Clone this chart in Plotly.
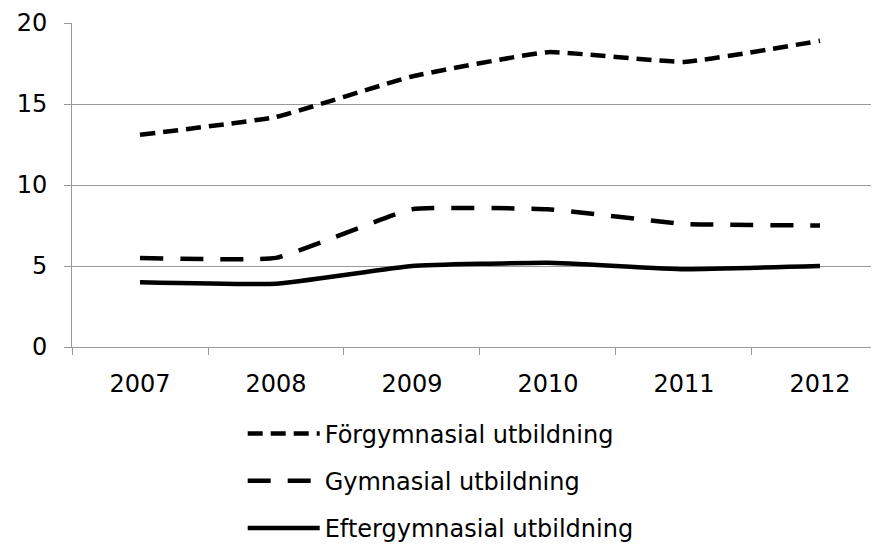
import plotly.graph_objects as go

years = ['2007', '2008', '2009', '2010', '2011', '2012']
forgymnasial = [13.1, 14.2, 16.7, 18.2, 17.6, 18.9]
gymnasial = [5.5, 5.5, 8.5, 8.5, 7.6, 7.5]
eftergymnasial = [4.0, 3.9, 5.0, 5.2, 4.8, 5.0]

series = [
    ('Förgymnasial utbildning', forgymnasial, '15px,8px'),
    ('Gymnasial utbildning', gymnasial, '23px,17px'),
    ('Eftergymnasial utbildning', eftergymnasial, 'solid'),
]

fig = go.Figure()
for i, (name, vals, dash) in enumerate(series):
    fig.add_trace(go.Scatter(
        x=years, y=vals, name=name, mode='lines',
        line=dict(color='black', width=4.5, dash=dash, shape='spline', smoothing=0.35),
        legendgroup=str(i),
    ))

# page body adds an 8px margin, so the margins below are shifted by 8px
fig.update_layout(
    width=879, height=549,
    margin=dict(l=64, r=8, t=15, b=210, autoexpand=False),
    plot_bgcolor='white', paper_bgcolor='white',
    font=dict(family='DejaVu Sans', size=24, color='black'),
    showlegend=True,
    legend=dict(
        orientation='v', xref='container', x=0.267, xanchor='left',
        yref='container', y=0.265, yanchor='top',
        tracegroupgap=13, itemwidth=72, font=dict(size=24),
    ),
)
fig.update_xaxes(
    type='category', range=[-0.5, 5.434], tickson='boundaries',
    ticks='outside', ticklen=7, tickcolor='#999999', ticklabelstandoff=15,
    showgrid=False, showline=True, linecolor='#999999', linewidth=1,
    automargin=False,
)
fig.update_yaxes(
    range=[0, 20], tickvals=[0, 5, 10, 15, 20],
    ticks='outside', ticklen=7, tickcolor='#999999', ticklabelstandoff=12,
    showgrid=True, gridcolor='#999999', gridwidth=1,
    showline=True, linecolor='#999999', zeroline=False,
    automargin=False,
)

fig.write_html('out.html')
